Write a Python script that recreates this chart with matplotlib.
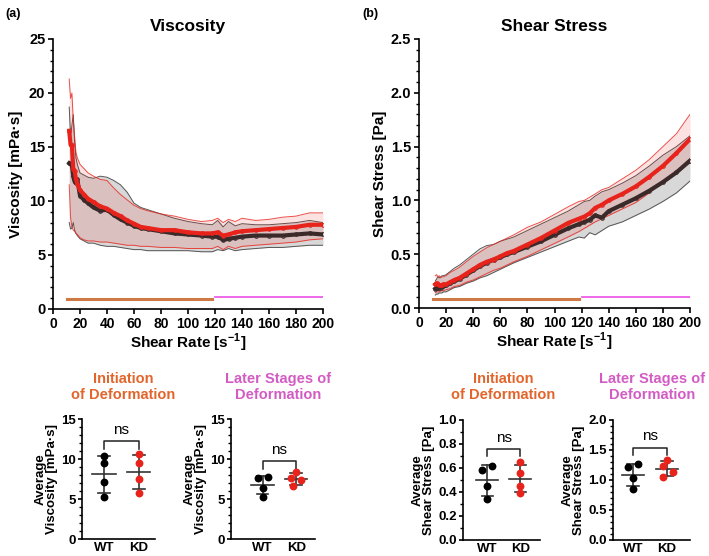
import numpy as np
import matplotlib
matplotlib.use('Agg')
import matplotlib.pyplot as plt
from matplotlib.ticker import MultipleLocator, FormatStrFormatter

plt.rcParams['font.family'] = ['Liberation Sans', 'DejaVu Sans']
plt.rcParams['font.weight'] = 'bold'
plt.rcParams['axes.labelweight'] = 'bold'
plt.rcParams['mathtext.fontset'] = 'custom'
plt.rcParams['mathtext.rm'] = 'Liberation Sans:bold'
plt.rcParams['mathtext.bf'] = 'Liberation Sans:bold'

# ---- data ----
rate = [12, 13, 14, 15, 16, 17, 18, 20, 23, 26, 30, 35, 40, 45, 50, 55, 60, 65, 70,
        80, 90, 100, 110, 118, 122, 126, 130, 135, 140, 150, 160, 170, 180, 190, 200]

visc_wt = [13.5, 13.4, 13.3, 12.3, 11.8, 11.7, 12.0, 10.5, 10.1, 9.8, 9.4, 9.1, 9.2, 8.7, 8.3, 8.0, 7.7, 7.5, 7.4,
           7.2, 7.0, 6.9, 6.8, 6.7, 6.7, 6.4, 6.5, 6.6, 6.7, 6.8, 6.8, 6.8, 6.9, 7.0, 6.9]
visc_kd = [16.5, 15.2, 15.2, 13.0, 12.8, 12.0, 11.6, 11.0, 10.6, 10.2, 9.9, 9.5, 9.3, 8.9, 8.6, 8.2, 7.9, 7.6, 7.5,
           7.3, 7.3, 7.1, 7.0, 7.0, 7.1, 6.8, 6.9, 7.1, 7.2, 7.3, 7.4, 7.5, 7.6, 7.8, 7.8]
visc_wt_hi = [18.7, 16.0, 17.0, 18.0, 15.5, 14.0, 13.4, 12.6, 12.4, 12.2, 12.1, 12.3, 12.2, 11.9, 11.5, 10.8, 9.8, 9.4, 9.2,
              8.8, 8.4, 8.1, 7.9, 7.8, 8.2, 7.6, 8.1, 7.7, 7.9, 7.8, 7.8, 7.9, 8.0, 8.2, 8.0]
visc_wt_lo = [8.0, 7.4, 7.5, 8.0, 7.3, 7.0, 6.8, 6.5, 6.3, 6.1, 6.1, 5.9, 5.8, 5.8, 5.7, 5.6, 5.5, 5.5, 5.4,
              5.4, 5.4, 5.4, 5.3, 5.3, 5.5, 5.4, 5.6, 5.4, 5.5, 5.6, 5.7, 5.7, 5.8, 5.9, 5.9]
visc_kd_hi = [21.3, 19.5, 20.0, 17.5, 16.0, 14.5, 14.0, 13.4, 13.0, 12.6, 12.3, 12.0, 11.9, 11.2, 10.6, 10.1, 9.6, 9.3, 9.1,
              8.8, 8.6, 8.3, 8.1, 8.2, 8.4, 8.0, 8.3, 8.1, 8.4, 8.2, 8.3, 8.5, 8.6, 8.9, 8.9]
visc_kd_lo = [11.5, 8.5, 7.6, 7.3, 7.2, 7.0, 6.9, 6.6, 6.4, 6.3, 6.3, 6.2, 6.2, 6.1, 6.0, 5.9, 5.9, 5.8, 5.8,
              5.7, 5.7, 5.6, 5.6, 5.6, 5.8, 5.5, 5.8, 5.6, 5.8, 5.9, 6.0, 6.1, 6.2, 6.4, 6.5]

stress_wt = [0.18, 0.19, 0.19, 0.19, 0.19, 0.20, 0.20, 0.21, 0.23, 0.25, 0.27, 0.31, 0.35, 0.39, 0.42, 0.45, 0.47, 0.50, 0.52,
             0.57, 0.62, 0.68, 0.74, 0.78, 0.80, 0.82, 0.86, 0.84, 0.90, 0.96, 1.02, 1.09, 1.17, 1.26, 1.37]
stress_kd = [0.22, 0.23, 0.22, 0.21, 0.21, 0.21, 0.22, 0.22, 0.24, 0.26, 0.28, 0.32, 0.36, 0.40, 0.43, 0.45, 0.48, 0.51, 0.53,
             0.59, 0.65, 0.72, 0.79, 0.83, 0.85, 0.88, 0.93, 0.96, 1.00, 1.06, 1.13, 1.22, 1.32, 1.44, 1.57]
stress_wt_hi = [0.25, 0.27, 0.29, 0.28, 0.29, 0.30, 0.30, 0.31, 0.34, 0.37, 0.40, 0.45, 0.50, 0.55, 0.58, 0.59, 0.62, 0.64, 0.66,
                0.72, 0.78, 0.84, 0.90, 0.96, 0.99, 1.00, 1.04, 1.08, 1.10, 1.16, 1.23, 1.32, 1.42, 1.50, 1.60]
stress_wt_lo = [0.12, 0.13, 0.13, 0.14, 0.14, 0.14, 0.15, 0.15, 0.17, 0.19, 0.20, 0.23, 0.25, 0.28, 0.30, 0.33, 0.36, 0.39, 0.42,
                0.47, 0.52, 0.57, 0.62, 0.66, 0.65, 0.70, 0.68, 0.72, 0.76, 0.80, 0.86, 0.92, 0.99, 1.07, 1.18]
stress_kd_hi = [0.30, 0.31, 0.29, 0.30, 0.28, 0.29, 0.29, 0.30, 0.33, 0.35, 0.38, 0.43, 0.48, 0.52, 0.56, 0.59, 0.62, 0.65, 0.68,
                0.75, 0.80, 0.87, 0.94, 0.99, 1.00, 1.03, 1.06, 1.10, 1.12, 1.20, 1.28, 1.38, 1.50, 1.62, 1.80]
stress_kd_lo = [0.14, 0.15, 0.15, 0.15, 0.16, 0.16, 0.16, 0.17, 0.18, 0.20, 0.21, 0.24, 0.26, 0.29, 0.32, 0.35, 0.37, 0.40, 0.43,
                0.48, 0.54, 0.60, 0.66, 0.71, 0.74, 0.77, 0.80, 0.83, 0.86, 0.92, 0.98, 1.07, 1.17, 1.26, 1.35]

# stage ranges (shear rate) for the coloured bars
stage_init = [10, 118]
stage_late = [120, 200]

groups = ['WT', 'KD']
visc_init_wt = [10.4, 9.5, 7.1, 5.3]
visc_init_kd = [10.6, 9.5, 7.5, 5.8]
visc_late_wt = [7.8, 7.6, 6.4, 5.3]
visc_late_kd = [8.4, 7.6, 7.4, 6.6]
stress_init_wt = [0.62, 0.58, 0.45, 0.34]
stress_init_kd = [0.65, 0.56, 0.45, 0.39]
stress_late_wt = [1.26, 1.21, 1.03, 0.85]
stress_late_kd = [1.33, 1.24, 1.13, 1.05]

ORANGE = '#e2652c'
PINK = '#d35cc4'
BAR_ORANGE = '#cf7a45'
BAR_PINK = '#ee5ee6'
WT_C = '#3b2a2a'
KD_C = '#e8231c'

W, H = 709, 556
fig = plt.figure(figsize=(W / 100, H / 100), dpi=100)


def px_axes(x0, y0, x1, y1):
    # pixel box (left, top, right, bottom) -> figure axes
    return fig.add_axes([x0 / W, 1 - y1 / H, (x1 - x0) / W, (y1 - y0) / H])


def style(ax, fs=10.5, length=3.5, pad=2):
    for s in ['top', 'right']:
        ax.spines[s].set_visible(False)
    for s in ['left', 'bottom']:
        ax.spines[s].set_linewidth(1.2)
    ax.tick_params(width=1.2, length=length, labelsize=fs, pad=pad)
    ax.tick_params(which='minor', width=1.0, length=2.2)
    for lab in ax.get_xticklabels() + ax.get_yticklabels():
        lab.set_fontweight('bold')


def rheo(ax, wt, wt_lo, wt_hi, kd, kd_lo, kd_hi):
    ax.fill_between(rate, wt_lo, wt_hi, color='#d8d8d8', lw=0, zorder=1)
    ax.plot(rate, wt_hi, color='#555555', lw=0.7, zorder=2)
    ax.plot(rate, wt_lo, color='#555555', lw=0.7, zorder=2)
    ax.fill_between(rate, kd_lo, kd_hi, color='#e8231c', alpha=0.13, lw=0, zorder=3)
    ax.plot(rate, kd_hi, color=KD_C, lw=0.7, alpha=0.8, zorder=4)
    ax.plot(rate, kd_lo, color=KD_C, lw=0.7, alpha=0.8, zorder=4)
    ax.plot(rate, wt, color=WT_C, lw=3, marker='o', ms=2.5, mfc='none', mec=WT_C, mew=0.8, zorder=5)
    ax.plot(rate, kd, color=KD_C, lw=3, marker='o', ms=2.5, mfc='none', mec=KD_C, mew=0.8, zorder=6)
    ax.set_xlim(0, 200)
    ax.xaxis.set_major_locator(MultipleLocator(20))
    ax.set_xlabel('Shear Rate [s$^{-1}$]', fontsize=11, fontweight='bold', labelpad=1)


# ---- top panels ----
ax1 = px_axes(53, 39, 323, 309)
rheo(ax1, visc_wt, visc_wt_lo, visc_wt_hi, visc_kd, visc_kd_lo, visc_kd_hi)
ax1.set_ylim(0, 25)
ax1.yaxis.set_major_locator(MultipleLocator(5))
ax1.yaxis.set_minor_locator(MultipleLocator(1))
ax1.plot(stage_init, [0.9, 0.9], color=BAR_ORANGE, lw=2.2)
ax1.plot(stage_late, [1.1, 1.1], color=BAR_PINK, lw=1.3)
ax1.set_ylabel('Viscosity [mPa·s]', fontsize=11, fontweight='bold', labelpad=4)
ax1.set_title('Viscosity', fontsize=12.5, fontweight='bold', pad=6)
style(ax1)
ax1.tick_params(axis='x', labelsize=10)

ax2 = px_axes(419, 39, 690, 308)
rheo(ax2, stress_wt, stress_wt_lo, stress_wt_hi, stress_kd, stress_kd_lo, stress_kd_hi)
ax2.set_ylim(0, 2.5)
ax2.yaxis.set_major_locator(MultipleLocator(0.5))
ax2.yaxis.set_minor_locator(MultipleLocator(0.1))
ax2.yaxis.set_major_formatter(FormatStrFormatter('%.1f'))
ax2.plot(stage_init, [0.08, 0.08], color=BAR_ORANGE, lw=2.2)
ax2.plot(stage_late, [0.1, 0.1], color=BAR_PINK, lw=1.3)
ax2.set_ylabel('Shear Stress [Pa]', fontsize=11, fontweight='bold', labelpad=3)
ax2.set_title('Shear Stress', fontsize=12.5, fontweight='bold', pad=6)
style(ax2)
ax2.tick_params(axis='x', labelsize=10)

fig.text(5 / W, 1 - 14 / H, '(a)', fontsize=9, fontweight='bold', va='center')
fig.text(362 / W, 1 - 14 / H, '(b)', fontsize=9, fontweight='bold', va='center')


# ---- bottom dot plots ----
def dots(ax, wt, kd, wt_dx, kd_dx, xlim, ymax, major, minor, fmt, br_y, ylabel):
    for i, (vals, dx, c) in enumerate([(wt, wt_dx, 'black'), (kd, kd_dx, KD_C)]):
        vals = np.array(vals)
        ax.scatter(i + np.array(dx), vals, s=32, color=c, zorder=3, lw=0)
        m, sd = vals.mean(), vals.std(ddof=1)
        ax.plot([i - 0.33, i + 0.33], [m, m], color='#333333', lw=1.2, zorder=2)
        ax.plot([i, i], [m - sd, m + sd], color='#333333', lw=1.2, zorder=2)
        for yy in (m - sd, m + sd):
            ax.plot([i - 0.17, i + 0.17], [yy, yy], color='#333333', lw=1.2, zorder=2)
    d = ymax * 0.06
    ax.plot([0, 0, 1, 1], [br_y - d, br_y, br_y, br_y - d], color='#222222', lw=1.1)
    ax.text(0.5, br_y + ymax * 0.035, 'ns', ha='center', va='bottom', fontsize=11, fontweight='normal')
    ax.set_xlim(*xlim)
    ax.set_ylim(0, ymax)
    ax.set_xticks([0, 1])
    ax.set_xticklabels(groups)
    ax.yaxis.set_major_locator(MultipleLocator(major))
    ax.yaxis.set_minor_locator(MultipleLocator(minor))
    ax.yaxis.set_major_formatter(FormatStrFormatter(fmt))
    ax.set_ylabel(ylabel, fontsize=9.5, fontweight='bold', labelpad=2, linespacing=1.0)
    style(ax, fs=9.5, length=3, pad=1.5)
    ax.tick_params(axis='x', length=0, pad=2)


ax3 = px_axes(82, 419, 155, 539)
dots(ax3, visc_init_wt, visc_init_kd, [0, 0, 0, 0], [0, 0, 0, 0], (-0.63, 1.46),
     15, 5, 1, '%d', 12.2, 'Average\nViscosity [mPa·s]')
ax4 = px_axes(231, 419, 315, 539)
dots(ax4, visc_late_wt, visc_late_kd, [0.15, -0.15, 0, 0], [0, -0.15, 0.15, -0.08], (-0.94, 1.56),
     15, 5, 1, '%d', 9.7, 'Average\nViscosity [mPa·s]')
ax5 = px_axes(463, 420, 540, 540)
dots(ax5, stress_init_wt, stress_init_kd, [0.15, -0.15, 0, 0], [0, 0, 0, 0], (-0.73, 1.6),
     1.0, 0.2, 0.1, '%.1f', 0.76, 'Average\nShear Stress [Pa]')
ax6 = px_axes(613, 420, 690, 540)
dots(ax6, stress_late_wt, stress_late_kd, [0.15, -0.15, 0, 0], [0, -0.12, 0.18, -0.12], (-0.59, 1.68),
     2.0, 0.5, 0.1, '%.1f', 1.54, 'Average\nShear Stress [Pa]')

for cx, txt, col in [(123, 'Initiation\nof Deformation', ORANGE),
                     (278, 'Later Stages of\nDeformation', PINK),
                     (503, 'Initiation\nof Deformation', ORANGE),
                     (652, 'Later Stages of\nDeformation', PINK)]:
    fig.text(cx / W, 1 - 387 / H, txt, color=col, fontsize=10.5, fontweight='bold',
             ha='center', va='center', linespacing=1.1)

fig.savefig('out.png', dpi=100)
